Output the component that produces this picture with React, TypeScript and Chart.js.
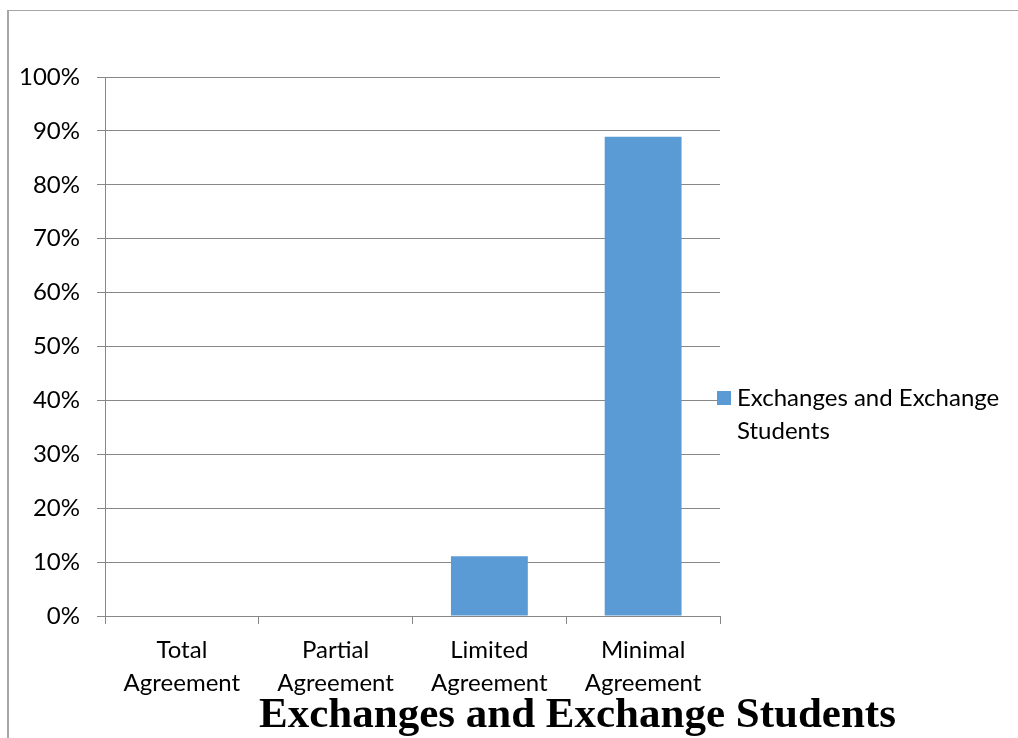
import React, { useEffect, useRef } from "react";
import { Chart, registerables } from "chart.js";

Chart.register(...registerables);

const categories: string[][] = [
  ["Total", "Agreement"],
  ["Partial", "Agreement"],
  ["Limited", "Agreement"],
  ["Minimal", "Agreement"],
];
const seriesLabel = "Exchanges and Exchange Students";
const seriesValues: number[] = [0, 0, 11.1, 88.9];
const yTickValues: number[] = [0, 10, 20, 30, 40, 50, 60, 70, 80, 90, 100];
const chartTitle = "Exchanges and Exchange Students";

const FONT = "Lato";
const FS = 24;
const GRID = "#878787";
const BAR = "#5b9bd5";

const CANVAS_W = 1009;
const CANVAS_H = 727;
const AREA = { left: 96, top: 66, right: 711, bottom: 605 };

const sidePlugin = {
  id: "sideLegendTitle",
  afterDraw(chart: any) {
    const ctx = chart.ctx;
    const ca = chart.chartArea;
    ctx.save();
    // legend
    const ds = chart.data.datasets[0];
    const boxX = ca.right - 3;
    const boxY = (ca.top + ca.bottom) / 2 - 7 + 51.5;
    ctx.fillStyle = ds.backgroundColor;
    ctx.fillRect(boxX, boxY, 14, 14);
    ctx.font = `${FS}px ${FONT}`;
    ctx.fillStyle = "#000";
    ctx.textBaseline = "middle";
    ctx.textAlign = "left";
    const words = String(ds.label).split(" ");
    const maxW = chart.width - (boxX + 20) - 2;
    const lines: string[] = [];
    let cur = "";
    for (const w of words) {
      const t = cur ? cur + " " + w : w;
      if (ctx.measureText(t).width > maxW && cur) {
        lines.push(cur);
        cur = w;
      } else cur = t;
    }
    if (cur) lines.push(cur);
    lines.forEach((ln, i) => ctx.fillText(ln, boxX + 20, boxY + 7 + i * 33));
    // title
    ctx.font = `bold 43px "Liberation Serif"`;
    ctx.textAlign = "center";
    ctx.textBaseline = "alphabetic";
    ctx.fillText(chartTitle, (ca.left + ca.right) / 2 + 165, ca.bottom + 111);
    ctx.restore();
  },
};

export default function App() {
  const ref = useRef<HTMLCanvasElement>(null);
  useEffect(() => {
    if (!ref.current) return;
    const chart = new Chart(ref.current, {
      type: "bar",
      data: {
        labels: categories,
        datasets: [
          {
            label: seriesLabel,
            data: seriesValues,
            backgroundColor: BAR,
            categoryPercentage: 1,
            barPercentage: 0.5,
          },
        ],
      },
      options: {
        animation: false,
        responsive: false,
        devicePixelRatio: 1,
        layout: {
          padding: {
            left: 0,
            top: AREA.top,
            right: CANVAS_W - AREA.right,
            bottom: 0,
          },
        },
        plugins: {
          legend: { display: false },
          title: { display: false },
          tooltip: { enabled: false },
        },
        scales: {
          x: {
            offset: true,
            grid: {
              display: true,
              offset: true,
              drawOnChartArea: false,
              drawTicks: true,
              tickLength: 8,
              color: GRID,
            },
            border: { display: true, color: GRID },
            ticks: {
              color: "#000",
              padding: 10,
              font: { family: FONT, size: FS, lineHeight: 33 / FS },
              maxRotation: 0,
              autoSkip: false,
            },
            afterFit: (s: any) => {
              s.height = CANVAS_H - AREA.bottom;
            },
          },
          y: {
            min: 0,
            max: 100,
            afterBuildTicks: (s: any) => {
              s.ticks = yTickValues.map((v) => ({ value: v }));
            },
            grid: {
              color: GRID,
              drawTicks: true,
              tickLength: 8,
            },
            border: { display: true, color: GRID },
            ticks: {
              color: "#000",
              padding: 17,
              font: { family: FONT, size: FS },
              callback: (v: any) => `${v}%`,
            },
            afterFit: (s: any) => {
              s.width = AREA.left;
            },
          },
        },
      },
      plugins: [sidePlugin],
    });
    return () => chart.destroy();
  }, []);
  return (
    <div
      style={{
        position: "fixed",
        left: 7,
        top: 10,
        width: CANVAS_W,
        height: CANVAS_H,
        borderLeft: "2px solid #a6a6a6",
        borderTop: "1px solid #a6a6a6",
        overflow: "hidden",
        background: "#fff",
      }}
    >
      <canvas ref={ref} width={CANVAS_W} height={CANVAS_H} style={{ display: "block" }} />
    </div>
  );
}
